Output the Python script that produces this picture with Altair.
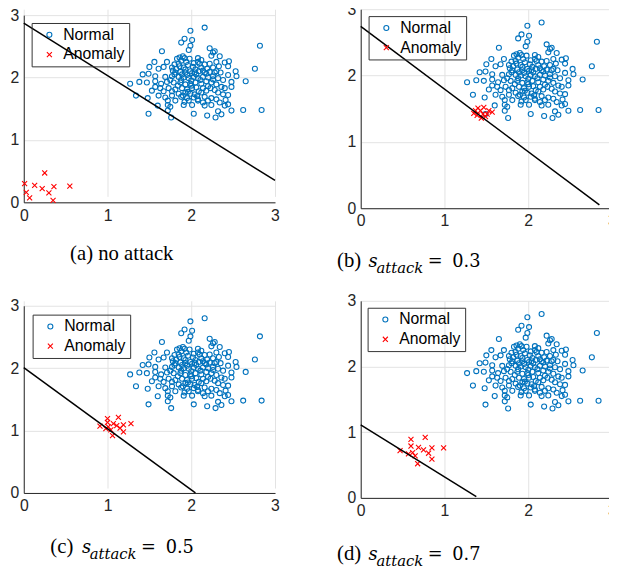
import altair as alt
import pandas as pd

# ---------------- data ----------------
normal_x = [2.16, 1.99, 1.92, 2.01, 1.88, 2.82, 1.99, 1.97, 2.22, 1.65, 2.26, 2.28, 2.24, 2.34, 2.08,
            1.92, 1.86, 1.88, 2.45, 2.40, 1.71, 1.56, 1.80, 1.85, 1.94, 2.08, 2.10, 2.16, 2.30, 2.33,
            1.50, 1.61, 1.67, 1.77, 1.82, 1.91, 2.02, 2.12, 2.19, 2.26, 2.30, 2.44, 2.76, 2.53, 1.81,
            1.87, 1.93, 1.99, 2.04, 2.09, 2.16, 2.22, 2.28, 2.35, 2.44, 2.54, 1.42, 1.49, 1.57, 1.69,
            1.77, 1.85, 1.91, 1.97, 2.03, 2.08, 2.14, 2.20, 2.26, 2.32, 2.38, 2.65, 2.48, 1.27, 1.38,
            1.47, 1.57, 1.64, 1.71, 1.79, 1.87, 1.93, 1.99, 2.05, 2.12, 2.18, 2.24, 2.30, 2.36, 2.48,
            1.57, 1.63, 1.73, 1.81, 1.89, 1.95, 2.01, 2.06, 2.14, 2.23, 2.28, 2.40, 1.53, 1.67, 1.77,
            1.85, 1.93, 1.99, 2.04, 2.12, 2.18, 2.32, 2.38, 2.44, 1.34, 1.48, 1.61, 1.69, 1.77, 1.88,
            1.95, 2.03, 2.08, 2.16, 2.24, 2.30, 2.41, 1.72, 1.81, 1.92, 1.97, 2.08, 2.14, 2.20, 2.34,
            2.44, 1.72, 1.60, 1.75, 1.91, 2.01, 2.16, 2.24, 2.40, 1.72, 2.32, 2.48, 2.62, 2.84, 1.49,
            2.03, 2.36, 1.76, 2.19, 2.29,
            1.83, 1.90, 1.96, 2.03, 2.06, 1.95, 1.88, 2.00, 2.11, 1.80, 2.05, 1.93, 2.18, 1.98, 2.12,
            1.86, 2.22, 1.75, 2.00, 1.84, 1.96, 2.09, 2.20, 1.90, 2.07, 1.78, 2.26, 2.01, 2.14, 1.89]
normal_y = [2.80, 2.75, 2.62, 2.60, 2.56, 2.51, 2.51, 2.44, 2.47, 2.42, 2.40, 2.42, 2.35, 2.34, 2.31,
            2.31, 2.32, 2.27, 2.26, 2.24, 2.25, 2.25, 2.21, 2.22, 2.25, 2.25, 2.22, 2.21, 2.25, 2.18,
            2.17, 2.14, 2.17, 2.16, 2.14, 2.16, 2.17, 2.16, 2.14, 2.16, 2.10, 2.18, 2.14, 2.10, 2.08,
            2.09, 2.08, 2.10, 2.08, 2.10, 2.08, 2.09, 2.08, 2.08, 2.04, 2.02, 2.05, 2.06, 2.02, 2.01,
            2.02, 2.01, 2.00, 1.99, 2.01, 1.99, 2.01, 2.00, 1.97, 1.99, 1.96, 1.94, 1.93, 1.90, 1.93,
            1.92, 1.94, 1.90, 1.93, 1.92, 1.92, 1.89, 1.90, 1.92, 1.90, 1.94, 1.92, 1.89, 1.85, 1.85,
            1.85, 1.83, 1.83, 1.81, 1.83, 1.81, 1.83, 1.84, 1.83, 1.83, 1.80, 1.83, 1.79, 1.78, 1.78,
            1.74, 1.76, 1.74, 1.73, 1.76, 1.79, 1.76, 1.73, 1.72, 1.71, 1.67, 1.71, 1.68, 1.71, 1.69,
            1.67, 1.68, 1.65, 1.69, 1.67, 1.65, 1.64, 1.63, 1.63, 1.61, 1.63, 1.63, 1.60, 1.63, 1.60,
            1.57, 1.56, 1.55, 1.53, 1.56, 1.56, 1.55, 1.56, 1.55, 1.47, 1.46, 1.47, 1.48, 1.48, 1.42,
            1.42, 1.41, 1.36, 1.39, 1.36,
            2.30, 2.34, 2.20, 2.23, 2.05, 2.04, 1.96, 1.95, 1.96, 2.05, 2.13, 2.13, 2.06, 2.30, 2.28,
            2.18, 2.22, 1.96, 1.87, 1.87, 1.77, 1.78, 1.86, 1.71, 1.70, 2.11, 2.02, 2.07, 2.11, 2.05]

anom_a_x = [0.25, 0.01, 0.13, 0.22, 0.36, 0.55, 0.03, 0.30, 0.07, 0.35]
anom_a_y = [0.47, 0.30, 0.27, 0.22, 0.25, 0.26, 0.16, 0.15, 0.07, 0.03]
anom_b_x = [1.40, 1.47, 1.35, 1.43, 1.51, 1.57, 1.39, 1.44, 1.49, 1.37, 1.46, 1.53]
anom_b_y = [1.51, 1.52, 1.43, 1.47, 1.42, 1.45, 1.40, 1.36, 1.38, 1.47, 1.42, 1.47]
anom_c_x = [1.00, 1.13, 1.00, 0.91, 1.01, 1.07, 1.11, 1.19, 1.28, 0.98, 1.04, 1.15, 1.06, 1.19]
anom_c_y = [1.19, 1.21, 1.13, 1.07, 1.06, 1.11, 1.08, 1.09, 1.11, 1.03, 1.01, 1.04, 0.92, 0.98]
anom_d_x = [0.60, 0.77, 0.60, 0.69, 0.85, 0.99, 0.47, 0.75, 0.81, 0.57, 0.62, 0.65, 0.85, 0.68]
anom_d_y = [0.89, 0.92, 0.79, 0.77, 0.76, 0.76, 0.72, 0.73, 0.68, 0.67, 0.69, 0.64, 0.59, 0.52]

line_a_x = [0.0, 3.0]
line_a_y = [2.87, 0.35]
line_b_x = [0.0, 2.85]
line_b_y = [2.74, 0.05]
line_c_x = [0.0, 2.05]
line_c_y = [2.01, 0.0]
line_d_x = [0.0, 1.38]
line_d_y = [1.11, 0.02]

classes = ["Normal", "Anomaly"]
tick_values = [0, 1, 2, 3]
cap_labels = ["(a)", "(b)", "(c)", "(d)"]
cap_values = ["0.3", "0.5", "0.7"]

BLUE = "#0072BD"
RED = "#FF0000"
AXC = "#262626"
SANS = "Liberation Sans"
SERIF = "Liberation Serif"
MATH = "DejaVu Serif"


def caption_layer(pieces):
    layers = []
    for text, px, py, font, size, italic in pieces:
        layers.append(
            alt.Chart(pd.DataFrame({"t": [text]}))
            .mark_text(align="left", baseline="alphabetic", font=font, fontSize=size,
                       fontStyle="italic" if italic else "normal", color="black")
            .encode(text="t:N", x=alt.value(px), y=alt.value(py))
        )
    return layers


def math_caption(label, value, x0, y0):
    return [
        (label, x0, y0, SERIF, 21, False),
        ("s", x0 + 32, y0, MATH, 18, True),
        ("attack", x0 + 40, y0 + 6, MATH, 15, True),
        ("=", x0 + 92, y0, MATH, 18, False),
        (value, x0 + 117, y0, MATH, 18, False),
    ]


def panel(ax, ay, lx, ly, pieces, w, h, top, leg_x, leg_y):
    df = pd.DataFrame({
        "x": normal_x + ax,
        "y": normal_y + ay,
        "cls": [classes[0]] * len(normal_x) + [classes[1]] * len(ax),
    })
    xaxis = alt.Axis(values=tick_values, title=None, grid=True, ticks=False, labelPadding=5,
                     format="d", labelFlush=False)
    yaxis = alt.Axis(values=tick_values, title=None, grid=True, ticks=False, labelPadding=5,
                     format="d", labelFlush=False)
    xs = alt.Scale(domain=[0, 3], nice=False, zero=False)
    ys = alt.Scale(domain=[0, 3], nice=False, zero=False, range=[h, top])
    legend = alt.Legend(title=None, orient="none", legendX=leg_x, legendY=leg_y,
                        strokeColor="#333333", padding=4, symbolOffset=6, labelOffset=6,
                        rowPadding=4, labelExpr="datum.label + '    '")
    pts = alt.Chart(df).mark_point(filled=False, size=26, strokeWidth=1.1, opacity=1).encode(
        x=alt.X("x:Q", scale=xs, axis=xaxis),
        y=alt.Y("y:Q", scale=ys, axis=yaxis),
        color=alt.Color("cls:N", scale=alt.Scale(domain=classes, range=[BLUE, RED]), legend=legend),
        shape=alt.Shape("cls:N", scale=alt.Scale(domain=classes,
                                                 range=["circle", "M-1,-1L1,1M-1,1L1,-1"]),
                        legend=legend),
    )
    line = alt.Chart(pd.DataFrame({"x": lx, "y": ly})).mark_line(color="black", strokeWidth=1.5).encode(
        x=alt.X("x:Q", scale=xs), y=alt.Y("y:Q", scale=ys)
    )
    return alt.layer(pts, line, *caption_layer(pieces)).properties(width=w, height=h)


pa = panel(anom_a_x, anom_a_y, line_a_x, line_a_y,
           [(cap_labels[0] + " no attack", 47, 255, SERIF, 21, False)], 255, 196, 6, 8, 14)
pb = panel(anom_b_x, anom_b_y, line_b_x, line_b_y,
           math_caption(cap_labels[1], cap_values[0], -24, 262), 255, 202, 0, 8, 7)
pc = panel(anom_c_x, anom_c_y, line_c_x, line_c_y,
           math_caption(cap_labels[2], cap_values[1], 27, 256), 255, 195, 5, 9, 14)
pd_ = panel(anom_d_x, anom_d_y, line_d_x, line_d_y,
            math_caption(cap_labels[3], cap_values[2], -24, 263), 255, 200, 0, 7, 7)

ind = dict(color="independent", shape="independent")

chart = (
    alt.concat(pa, pb, pc, pd_, columns=2, spacing={"row": 94, "column": 87}, bounds="flush")
    .resolve_scale(**ind)
    .resolve_legend(**ind)
    .properties(padding={"left": 2, "top": -11, "right": -8, "bottom": 0}, background="white")
    .configure_view(stroke=None)
    .configure_axis(domainColor=AXC, domainWidth=1, gridColor="#e3e3e3", gridWidth=1,
                    labelFont=SANS, labelFontSize=16, labelColor=AXC)
    .configure_legend(labelFont=SANS, labelFontSize=16, labelColor="black", symbolSize=26,
                      symbolStrokeWidth=1.1)
)

chart.save("out.html", embed_options={"renderer": "svg", "actions": False})
